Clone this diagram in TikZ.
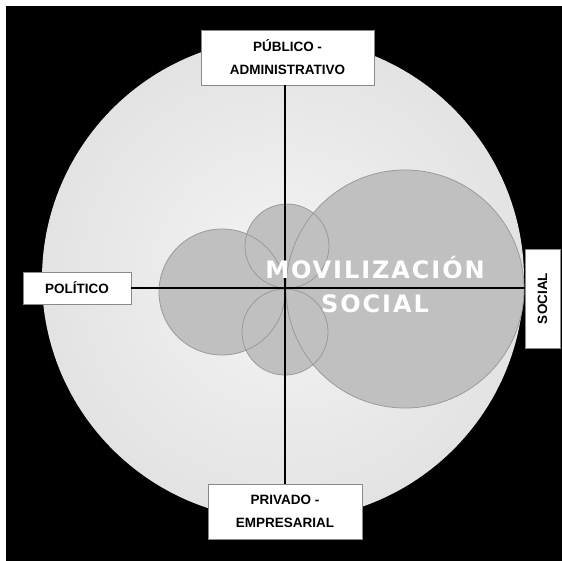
\documentclass[tikz,border=0pt]{standalone}
\usepackage{fontspec}
\setmainfont{Liberation Sans}
\newfontfamily\bigfont{DejaVu Sans}[LetterSpace=8]
\definecolor{discin}{HTML}{F4F4F4}
\definecolor{discout}{HTML}{D2D2D2}
\definecolor{blobfill}{HTML}{C0C0C0}
\definecolor{blobedge}{HTML}{9A9A9A}
\definecolor{boxedge}{HTML}{8A8A8A}
\pgfdeclareradialshading{discshade}{\pgfpoint{0bp}{0bp}}{color(0bp)=(discin); color(50bp)=(discout)}
\tikzset{
  lbl/.style={draw=boxedge, fill=white, line width=0.9pt, align=center, inner sep=0pt,
    font=\bfseries\fontsize{13.5}{23}\selectfont},
  blob/.style={fill=blobfill},
  blobline/.style={draw=blobedge, line width=0.8pt},
  axis/.style={draw=black, line width=1.5pt}
}
\begin{document}
\begin{tikzpicture}[x=1pt,y=-1pt]
\useasboundingbox (0,0) rectangle (562,561);
\fill[white] (0,0) rectangle (562,561);
\fill[black] (6,6) rectangle (562,561);
\shade[shading=discshade] (283,279) circle[radius=241pt];
% blobs
\fill[blob] (222,292) circle[radius=63pt];
\fill[blob] (287,246) circle[radius=42pt];
\fill[blob] (285,332) circle[radius=43pt];
\fill[blob] (405,289) circle[radius=119pt];
\draw[blobline] (222,292) circle[radius=63pt];
\draw[blobline] (287,246) circle[radius=42pt];
\draw[blobline] (285,332) circle[radius=43pt];
\draw[blobline] (405,289) circle[radius=119pt];
% boxes
\node[lbl, minimum width=173pt, minimum height=55pt] (pub) at (287.5,57.5) {PÚBLICO -\\ADMINISTRATIVO};
\node[lbl, minimum width=108pt, minimum height=32pt] (pol) at (77,288) {POLÍTICO};
\node[lbl, minimum width=99pt, minimum height=35pt, rotate=90] (soc) at (542.5,298.5) {SOCIAL};
\node[lbl, minimum width=154pt, minimum height=55pt] (pri) at (285,511.5) {PRIVADO -\\EMPRESARIAL};
% axes
\draw[axis] (pri.north) -- (pri.north |- pub.south);
\draw[axis] (pol.east) -- (pol.east -| soc.north);
% title
\node[text=white, align=center, font=\bigfont\bfseries\fontsize{24}{34}\selectfont] (mov) at (375,285) {MOVILIZACIÓN\\SOCIAL};
\end{tikzpicture}
\end{document}
